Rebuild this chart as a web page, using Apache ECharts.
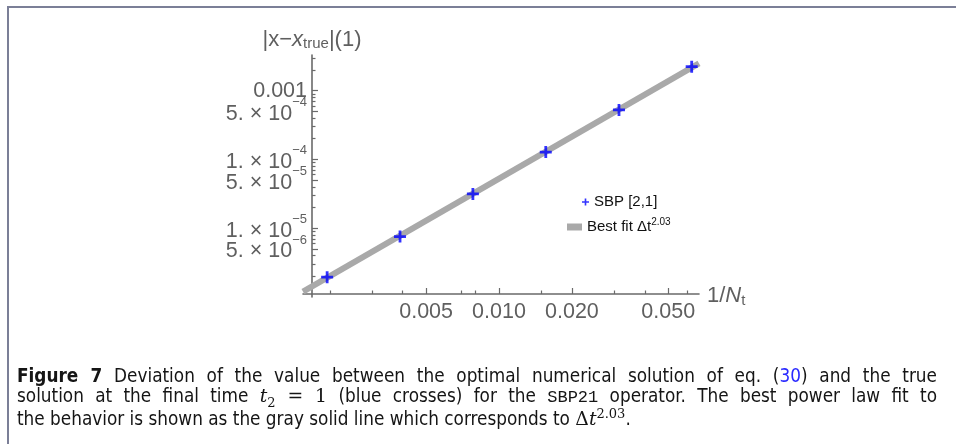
<!DOCTYPE html>
<html>
<head>
<meta charset="utf-8">
<script src="https://cdn.jsdelivr.net/npm/echarts@6/dist/echarts.min.js"></script>
<style>
html, body { margin: 0; padding: 0; background: #fff; }
body { width: 956px; height: 444px; position: relative; overflow: hidden; }
#frame {
  position: absolute; left: 7px; top: 6px; width: 1000px; height: 500px;
  border-top: 2px solid #7b7f97; border-left: 2px solid #7b7f97;
}
#chart { position: absolute; left: 0; top: 0; width: 956px; height: 444px; }
#caption {
  position: absolute; left: 17px; top: 366px; width: 920px;
  font-family: "Liberation Sans Narrow", "DejaVu Sans Condensed", "DejaVu Sans", sans-serif;
  font-stretch: condensed;
  font-size: 18.8px; line-height: 20.3px; color: #151515;
}
#caption .j { text-align: justify; text-align-last: justify; white-space: nowrap; }
#caption .m { font-family: "DejaVu Serif", "Liberation Serif", serif; font-stretch: normal; }
#caption .ref { color: #2a2aff; }
#caption .tt { font-family: "Liberation Mono", "DejaVu Sans Mono", monospace; font-size: 17px; }
#caption sub, #caption sup { font-size: 13px; line-height: 0; }
</style>
</head>
<body>
<div id="frame"></div>
<div id="chart"></div>
<div id="caption">
  <div class="j"><b>Figure 7</b> Deviation of the value between the optimal numerical solution of eq. (<span class="ref">30</span>) and the true</div>
  <div class="j">solution at the final time <span class="m"><i>t</i><sub>2</sub> = 1</span> (blue crosses) for the <span class="tt">SBP21</span> operator. The best power law fit to</div>
  <div>the behavior is shown as the gray solid line which corresponds to <span class="m">Δ<i>t</i><sup>2.03</sup></span>.</div>
</div>
<script>
// 1/N_t and the deviation at t = 1
const invN = [0.00195, 0.0039, 0.0078, 0.0156, 0.0313, 0.0625]
const err = [1.94e-6, 7.55e-6, 3.15e-5, 1.28e-4, 5.24e-4, 2.23e-3]

// best fit line (end points)
const fitX = [0.00155, 0.0670]
const fitY = [1.20e-6, 2.49e-3]

// ticks
const xTickValues = [0.005, 0.01, 0.02, 0.05]
const xTickLabels = ['0.005', '0.010', '0.020', '0.050']
const xMinorTicks = [0.002, 0.003, 0.004, 0.007, 0.008, 0.015, 0.03, 0.04, 0.06]
// powers of ten first, then the 5s (so first/last labels don't sit next to a close neighbour)
const yTickValues = [0.001, 1e-4, 1e-5, 5e-4, 5e-5, 5e-6]
const yTickMantissa = ['0.001', '1. × 10', '1. × 10', '5. × 10', '5. × 10', '5. × 10']
const yTickExponent = ['', '−4', '−5', '−4', '−5', '−6']
const yMinorTicks = [
  2e-6, 3e-6, 4e-6, 6e-6, 7e-6, 8e-6, 9e-6,
  2e-5, 3e-5, 4e-5, 6e-5, 7e-5, 8e-5, 9e-5,
  2e-4, 3e-4, 4e-4, 6e-4, 7e-4, 8e-4, 9e-4,
  2e-3, 3e-3
]

const axisColor = '#6a6a6a'
const labelColor = '#5f5f5f'
const font = 'Liberation Sans, Arial, sans-serif'

const findIndex = (list, v) => list.findIndex((t) => Math.abs(v - t) / t < 1e-6)

const plus = 'path://M4.6,0H7.4V4.6H12V7.4H7.4V12H4.6V7.4H0V4.6H4.6Z'

const chart = echarts.init(document.getElementById('chart'), null, { renderer: 'canvas' })

const baseX = {
  type: 'log',
  min: 0.00155,
  max: 0.0670,
  position: 'bottom',
  offset: -3,
  splitLine: { show: false }
}
const baseY = {
  type: 'log',
  min: 1e-6,
  max: 3.3e-3,
  position: 'left',
  offset: -9,
  splitLine: { show: false }
}

const option = {
  animation: false,
  backgroundColor: 'transparent',
  grid: { left: 303, right: 257, top: 55, bottom: 147 },
  legend: [
    {
      data: [{ name: 'SBP [2,1]', icon: plus }],
      left: 582, top: 193, padding: 0,
      itemWidth: 7, itemHeight: 7,
      textStyle: { fontFamily: font, fontSize: 15, color: '#111', lineHeight: 18 }
    },
    {
      data: [{ name: 'Best fit', icon: 'rect' }],
      left: 567, top: 217, padding: 0,
      itemWidth: 15, itemHeight: 7,
      formatter: () => '{n|Best fit Δt}{sup|2.03}',
      textStyle: {
        fontFamily: font, fontSize: 15, color: '#111',
        rich: {
          n: { fontFamily: font, fontSize: 15, color: '#111', lineHeight: 20, verticalAlign: 'middle' },
          sup: { fontFamily: font, fontSize: 10, color: '#111', lineHeight: 10, verticalAlign: 'top' }
        }
      }
    }
  ],
  xAxis: [
    Object.assign({}, baseX, {
      name: '{n|1/}{i|N}{sub|t}',
      nameLocation: 'end',
      nameGap: 8,
      nameTextStyle: {
        align: 'left',
        verticalAlign: 'middle',
        rich: {
          n: { fontFamily: font, fontSize: 22, color: labelColor, lineHeight: 28, verticalAlign: 'middle', padding: [3, 0, 0, 0] },
          i: { fontFamily: font, fontSize: 22, fontStyle: 'italic', color: labelColor, lineHeight: 28, verticalAlign: 'middle', padding: [3, 0, 0, 0] },
          sub: { fontFamily: font, fontSize: 15, color: labelColor, lineHeight: 15, verticalAlign: 'bottom' }
        }
      },
      axisLine: { lineStyle: { color: axisColor, width: 1.6 } },
      axisTick: { inside: true, length: 6, customValues: xTickValues, lineStyle: { color: axisColor, width: 1.2 } },
      axisLabel: {
        customValues: xTickValues,
        showMinLabel: true, showMaxLabel: true, hideOverlap: false,
        margin: 7,
        fontFamily: font, fontSize: 21.5, color: labelColor,
        formatter: (v) => xTickLabels[findIndex(xTickValues, v)] || ''
      }
    }),
    Object.assign({}, baseX, {
      axisLine: { show: false },
      axisTick: { inside: true, length: 3.5, customValues: xMinorTicks, lineStyle: { color: axisColor, width: 1.2 } },
      axisLabel: { show: false }
    })
  ],
  yAxis: [
    Object.assign({}, baseY, {
      name: '{n|\u007Cx−}{i|x}{sub|true}{n|\u007C(1)}',
      nameLocation: 'end',
      nameGap: 4,
      nameTextStyle: {
        align: 'center',
        verticalAlign: 'bottom',
        rich: {
          n: { fontFamily: font, fontSize: 22, color: labelColor, lineHeight: 22, verticalAlign: 'top' },
          i: { fontFamily: font, fontSize: 22, fontStyle: 'italic', color: labelColor, lineHeight: 22, verticalAlign: 'top' },
          sub: { fontFamily: font, fontSize: 15, color: labelColor, lineHeight: 15, verticalAlign: 'bottom' }
        }
      },
      axisLine: { lineStyle: { color: axisColor, width: 1.6 } },
      axisTick: { inside: true, length: 6, customValues: yTickValues, lineStyle: { color: axisColor, width: 1.2 } },
      axisLabel: {
        customValues: yTickValues,
        showMinLabel: true, showMaxLabel: true, hideOverlap: false,
        margin: 5,
        formatter: (v) => {
          const i = findIndex(yTickValues, v)
          if (i < 0) return ''
          return yTickExponent[i]
            ? '{m|' + yTickMantissa[i] + '}{e|' + yTickExponent[i] + '}'
            : '{p|' + yTickMantissa[i] + '}'
        },
        rich: {
          p: { fontFamily: font, fontSize: 21.5, color: labelColor, lineHeight: 26, verticalAlign: 'middle' },
          m: { fontFamily: font, fontSize: 21.5, color: labelColor, lineHeight: 34, verticalAlign: 'middle', padding: [5, 0, 0, 0] },
          e: { fontFamily: font, fontSize: 13, color: labelColor, lineHeight: 15, verticalAlign: 'top', padding: [1.5, 0, 0, 0] }
        }
      }
    }),
    Object.assign({}, baseY, {
      axisLine: { show: false },
      axisTick: { inside: true, length: 3.5, customValues: yMinorTicks, lineStyle: { color: axisColor, width: 1.2 } },
      axisLabel: { show: false }
    })
  ],
  series: [
    {
      name: 'Best fit',
      type: 'line',
      color: '#a9a9a9',
      data: fitX.map((x, i) => [x, fitY[i]]),
      showSymbol: false,
      lineStyle: { width: 6, color: '#a9a9a9', cap: 'butt' },
      z: 2
    },
    {
      name: 'SBP [2,1]',
      type: 'scatter',
      color: '#0000ff',
      data: invN.map((x, i) => [x, err[i]]),
      symbol: plus,
      symbolSize: 12,
      itemStyle: { color: '#0000ff' },
      z: 3
    }
  ]
}

chart.setOption(option)
window.addEventListener('resize', () => chart.resize())
</script>
</body>
</html>
